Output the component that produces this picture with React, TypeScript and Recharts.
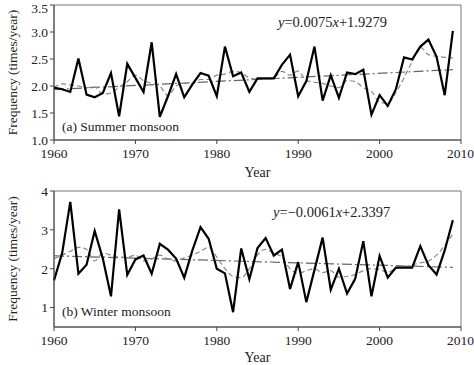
import { Line, LineChart, ReferenceArea, ReferenceLine, XAxis, YAxis } from "recharts";

const years = [
  1960, 1961, 1962, 1963, 1964, 1965, 1966, 1967, 1968, 1969,
  1970, 1971, 1972, 1973, 1974, 1975, 1976, 1977, 1978, 1979,
  1980, 1981, 1982, 1983, 1984, 1985, 1986, 1987, 1988, 1989,
  1990, 1991, 1992, 1993, 1994, 1995, 1996, 1997, 1998, 1999,
  2000, 2001, 2002, 2003, 2004, 2005, 2006, 2007, 2008, 2009,
];

// (a) summer monsoon: yearly frequency and its smoothed curve
const summer = [
  1.97, 1.94, 1.89, 2.51, 1.84, 1.79, 1.87, 2.24, 1.44, 2.41,
  2.15, 1.89, 2.81, 1.43, 1.81, 2.22, 1.79, 2.03, 2.24, 2.19,
  1.81, 2.73, 2.18, 2.25, 1.89, 2.14, 2.14, 2.14, 2.39, 2.58,
  1.81, 2.09, 2.73, 1.73, 2.2, 1.78, 2.25, 2.22, 2.3, 1.47,
  1.83, 1.63, 1.94, 2.53, 2.49, 2.73, 2.86, 2.54, 1.83, 3.02,
];
const summerSmooth = [
  1.97, 2.04, 2.02, 2.0, 1.97, 1.98, 1.85, 1.87, 1.98, 2.08,
  2.2, 2.1, 2.05, 2.0, 1.82, 2.0, 2.05, 2.05, 2.12, 2.12,
  2.2, 2.22, 2.27, 2.25, 2.15, 2.13, 2.13, 2.15, 2.27, 2.2,
  2.28, 2.1, 2.07, 2.05, 2.0, 1.97, 2.1, 2.08, 1.97, 1.9,
  1.7, 1.68, 1.88, 2.15, 2.45, 2.72, 2.58, 2.55, 2.53, 2.52,
];
const summerTrend = [1.935, 2.303]; // at 1960 and 2009

// (b) winter monsoon
const winter = [
  1.7, 2.4, 3.72, 1.87, 2.1, 2.97, 2.26, 1.29, 3.53, 1.84,
  2.24, 2.34, 1.87, 2.64, 2.49, 2.26, 1.77, 2.47, 3.07, 2.77,
  2.0, 1.88, 0.88, 2.52, 1.73, 2.53, 2.79, 2.34, 2.49, 1.48,
  2.17, 1.14, 1.97, 2.8, 1.46, 2.0, 1.36, 1.74, 2.71, 1.29,
  2.33, 1.77, 2.03, 2.03, 2.03, 2.58, 2.09, 1.85, 2.47, 3.25,
];
const winterSmooth = [
  2.26, 2.35, 2.45, 2.55, 2.5, 2.2, 2.4, 2.35, 2.3, 2.3,
  2.35, 2.2, 2.25, 2.35, 2.25, 2.2, 2.28, 2.35, 2.45, 2.55,
  2.3, 2.0, 1.8, 1.77, 2.0, 2.35, 2.5, 2.4, 2.3, 2.0,
  1.88, 1.95, 2.0, 1.9, 1.95, 1.78, 1.8, 1.85, 1.95, 2.0,
  1.98, 1.9, 2.02, 2.05, 2.1, 2.15, 2.2, 2.35, 2.6, 2.9,
];
const winterTrend = [2.334, 2.035];

const xTicks = [1960, 1970, 1980, 1990, 2000, 2010];
const summerTicks = [1.0, 1.5, 2.0, 2.5, 3.0, 3.5];
const winterTicks = [1, 2, 3, 4];

const font = '"Liberation Serif", "Times New Roman", serif';
const axisColor = "#444";

const summerData = years.map((year, i) => ({ year, v: summer[i], s: summerSmooth[i] }));
const winterData = years.map((year, i) => ({ year, v: winter[i], s: winterSmooth[i] }));

const YLabel = ({ viewBox }: any) => {
  const x = viewBox.x + 12;
  const y = viewBox.y + viewBox.height / 2;
  return (
    <text
      x={x}
      y={y}
      transform={`rotate(-90 ${x} ${y})`}
      textAnchor="middle"
      dominantBaseline="central"
      fontFamily={font}
      fontSize={13.5}
      fill="#222"
    >
      Frequency (times/year)
    </text>
  );
};

const XLabel = ({ viewBox, dy }: any) => (
  <text
    x={viewBox.x + viewBox.width / 2}
    y={viewBox.y + dy}
    textAnchor="middle"
    dominantBaseline="central"
    fontFamily={font}
    fontSize={14}
    fill="#222"
  >
    Year
  </text>
);

interface PanelProps {
  data: { year: number; v: number; s: number }[];
  height: number;
  top: number;
  xHeight: number;
  yDomain: [number, number];
  yTicks: number[];
  decimals: number;
  trend: number[];
  yearDy: number;
}

function Panel({ data, height, top, xHeight, yDomain, yTicks, decimals, trend, yearDy }: PanelProps) {
  const tick = { fontSize: 13.5, fontFamily: font, fill: "#222" };
  return (
    <LineChart width={474} height={height} data={data} margin={{ top, right: 13, bottom: 0, left: 0 }}>
      <XAxis
        dataKey="year"
        type="number"
        domain={[1960, 2010]}
        ticks={xTicks}
        height={xHeight}
        tick={tick}
        tickSize={4}
        tickMargin={4}
        stroke={axisColor}
        label={<XLabel dy={yearDy} />}
      />
      <YAxis
        domain={yDomain}
        ticks={yTicks}
        width={54}
        tick={tick}
        tickSize={4}
        tickMargin={2}
        stroke={axisColor}
        tickFormatter={(v: number) => v.toFixed(decimals)}
        label={<YLabel />}
      />
      <ReferenceArea
        x1={1960}
        x2={2010}
        y1={yDomain[0]}
        y2={yDomain[1]}
        fill="none"
        stroke="#777"
        strokeWidth={1}
      />
      <ReferenceLine
        segment={[
          { x: 1960, y: trend[0] },
          { x: 2009, y: trend[1] },
        ]}
        stroke="#666"
        strokeWidth={1.2}
        strokeDasharray="10 3 2 3"
      />
      <Line
        dataKey="s"
        type="monotone"
        stroke="#8a8a8a"
        strokeWidth={1.2}
        strokeDasharray="5 3"
        dot={false}
        isAnimationActive={false}
      />
      <Line
        dataKey="v"
        type="linear"
        stroke="#000"
        strokeWidth={2.2}
        dot={false}
        isAnimationActive={false}
      />
    </LineChart>
  );
}

const note = (left: number, top: number, size: number, children: any) => (
  <div
    style={{
      position: "absolute",
      left,
      top: top - size * 0.6,
      fontFamily: font,
      fontSize: size,
      lineHeight: `${size * 1.2}px`,
      color: "#222",
      whiteSpace: "nowrap",
    }}
  >
    {children}
  </div>
);

export default function App() {
  return (
    <div style={{ position: "absolute", left: 0, top: 0, width: 474, height: 365, background: "#fff", overflow: "hidden" }}>
      <Panel
        data={summerData}
        height={182}
        top={5}
        xHeight={42}
        yDomain={[1, 3.5]}
        yTicks={summerTicks}
        decimals={1}
        trend={summerTrend}
        yearDy={32}
      />
      <Panel
        data={winterData}
        height={183}
        top={9}
        xHeight={38}
        yDomain={[0.5, 4]}
        yTicks={winterTicks}
        decimals={0}
        trend={winterTrend}
        yearDy={30}
      />
      {note(278, 23, 14.5, <><i>y</i>=0.0075<i>x</i>+1.9279</>)}
      {note(62, 127, 13.5, "(a) Summer monsoon")}
      {note(273, 213, 14.5, <><i>y</i>=−0.0061<i>x</i>+2.3397</>)}
      {note(62, 312, 13.5, "(b) Winter monsoon")}
    </div>
  );
}
